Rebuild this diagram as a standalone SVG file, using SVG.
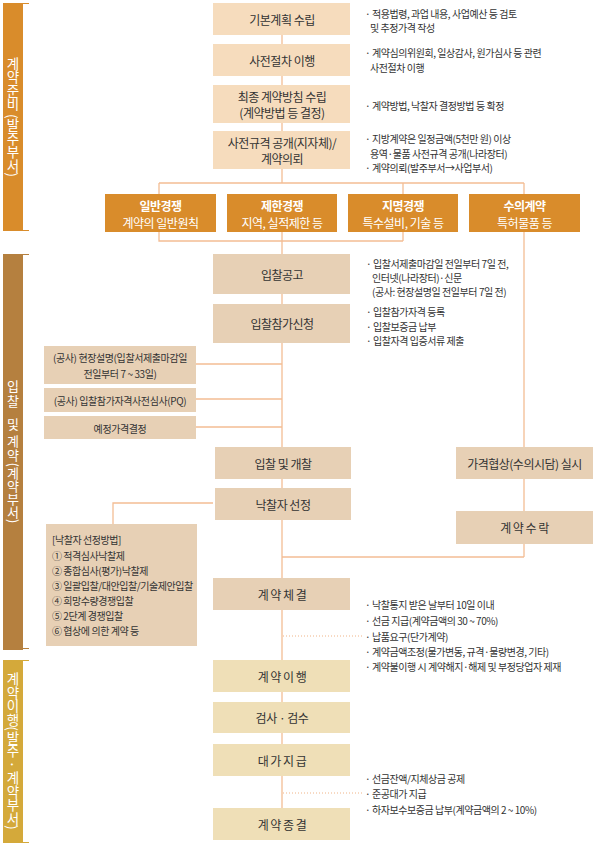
<svg xmlns="http://www.w3.org/2000/svg" width="599" height="847" viewBox="0 0 599 847">
<style>
text{font-family:"Noto Sans CJK KR","Noto Sans",sans-serif;fill:#333;}
.lbl{font-size:12px;letter-spacing:-0.5px;text-anchor:middle;dominant-baseline:central;}
.note{font-size:10px;letter-spacing:-0.45px;dominant-baseline:central;}
.sm{font-size:10px;letter-spacing:-0.4px;text-anchor:middle;dominant-baseline:central;}
.w{fill:#fff;}
.b{font-weight:bold;}
.side{font-size:13.5px;fill:#fff;text-anchor:middle;writing-mode:vertical-rl;}
.sc{font-size:13px;fill:#fff;text-anchor:middle;dominant-baseline:central;}
.ln{stroke:#f3bd94;stroke-width:1.3;fill:none;}
.dot{stroke:#f0b487;stroke-width:1;stroke-dasharray:1 2;fill:none;}
.b1{fill:#f6dcbd;}
.b2{fill:#e7d0b5;}
.b3{fill:#efdfb7;}
.or{fill:#d98c2b;}
</style>

<!-- sidebars -->
<g id="side-prep">
<rect x="3" y="3" width="20" height="228" fill="#d98c2b"/>
<path d="M23 3.5H29M23 230.5H29" stroke="#d98c2b" stroke-width="1.2"/>
<text class="side" x="13" y="117">계약준비 (발주부서)</text>
</g>
<g id="side-bid">
<rect x="3" y="254" width="20" height="396" fill="#b5803f"/>
<path d="M23 254.5H29M23 648.5H29" stroke="#b5803f" stroke-width="1.2"/>
<text class="sc" x="13 13 13 13 13" y="385 400 423 440 454">입찰및계약</text>
<text class="side" x="13" y="493" style="font-size:13px">(계약부서)</text>
</g>
<g id="side-exec">
<rect x="3" y="660" width="20" height="183" fill="#d4a93a"/>
<path d="M23 660.5H29M23 842.5H29" stroke="#d4a93a" stroke-width="1.2"/>
<text class="side" x="13" y="751">계약이행(발주 · 계약부서)</text>
</g>

<!-- connectors -->
<g id="connectors">
<path class="ln" d="M282 35V183M159 183H524M159 183V194M403 183V194M524 183V557M159 232V241H403M403 232V241M282 232V808"/>
<path class="ln" d="M196 364H282M196 399H282M196 427H282"/>
<path class="ln" d="M213 503H113V524"/>
<path class="ln" d="M282 557H524"/>
<path class="dot" d="M283 636H362M283 793H362"/>
</g>

<!-- top boxes -->
<g id="n-plan"><rect class="b1" x="213" y="3" width="137" height="32"/><text class="lbl" x="282" y="19">기본계획 수립</text></g>
<g id="n-pre"><rect class="b1" x="213" y="44" width="137" height="32"/><text class="lbl" x="282" y="60">사전절차 이행</text></g>
<g id="n-policy"><rect class="b1" x="213" y="85" width="137" height="38"/><text class="lbl" x="282" y="96">최종 계약방침 수립</text><text class="lbl" x="282" y="112.5">(계약방법 등 결정)</text></g>
<g id="n-spec"><rect class="b1" x="213" y="131" width="137" height="38"/><text class="lbl" x="282" y="142">사전규격 공개(지자체)/</text><text class="lbl" x="282" y="158">계약의뢰</text></g>

<!-- top notes -->
<g id="notes-top">
<text class="note" x="365" y="13">· 적용법령, 과업 내용, 사업예산 등 검토</text>
<text class="note" x="370" y="27">및 추정가격 작성</text>
<text class="note" x="365" y="52">· 계약심의위원회, 일상감사, 원가심사 등 관련</text>
<text class="note" x="370" y="67">사전절차 이행</text>
<text class="note" x="365" y="105">· 계약방법, 낙찰자 결정방법 등 확정</text>
<text class="note" x="365" y="138">· 지방계약은 일정금액(5천만 원) 이상</text>
<text class="note" x="370" y="153">용역·물품 사전규격 공개(나라장터)</text>
<text class="note" x="365" y="167">· 계약의뢰(발주부서→사업부서)</text>
</g>

<!-- orange boxes -->
<g id="n-general"><rect class="or" x="105" y="194" width="111" height="38"/><text class="lbl w b" x="160.5" y="205">일반경쟁</text><text class="lbl w" x="160.5" y="222">계약의 일반원칙</text></g>
<g id="n-limited"><rect class="or" x="227" y="194" width="110" height="38"/><text class="lbl w b" x="282" y="205">제한경쟁</text><text class="lbl w" x="282" y="222">지역, 실적제한 등</text></g>
<g id="n-nominated"><rect class="or" x="348" y="194" width="110" height="38"/><text class="lbl w b" x="403" y="205">지명경쟁</text><text class="lbl w" x="403" y="222">특수설비, 기술 등</text></g>
<g id="n-private"><rect class="or" x="469" y="194" width="111" height="38"/><text class="lbl w b" x="524.5" y="205">수의계약</text><text class="lbl w" x="524.5" y="222">특허물품 등</text></g>

<!-- middle boxes -->
<g id="n-notice"><rect class="b2" x="213" y="254" width="137" height="40"/><text class="lbl" x="282" y="274">입찰공고</text></g>
<g id="n-apply"><rect class="b2" x="213" y="304" width="137" height="39"/><text class="lbl" x="282" y="323">입찰참가신청</text></g>
<g id="n-site"><rect class="b2" x="44" y="346" width="152" height="38"/><text class="sm" x="120" y="357">(공사) 현장설명(입찰서제출마감일</text><text class="sm" x="120" y="373">전일부터 7 ~ 33일)</text></g>
<g id="n-pq"><rect class="b2" x="44" y="388" width="152" height="24"/><text class="sm" x="120" y="400">(공사) 입찰참가자격사전심사(PQ)</text></g>
<g id="n-price"><rect class="b2" x="44" y="416" width="152" height="23"/><text class="sm" x="120" y="428">예정가격결정</text></g>
<g id="n-open"><rect class="b2" x="215" y="447" width="136" height="32"/><text class="lbl" x="283" y="463">입찰 및 개찰</text></g>
<g id="n-select"><rect class="b2" x="215" y="488" width="136" height="32"/><text class="lbl" x="283" y="504">낙찰자 선정</text></g>
<g id="n-method"><rect class="b2" x="46" y="524" width="151" height="122"/>
<text class="note" x="52" y="539">[낙찰자 선정방법]</text>
<text class="note" x="52" y="555">① 적격심사낙찰제</text>
<text class="note" x="52" y="570">② 종합심사(평가)낙찰제</text>
<text class="note" x="52" y="585">③ 일괄입찰/대안입찰/기술제안입찰</text>
<text class="note" x="52" y="600">④ 희망수량경쟁입찰</text>
<text class="note" x="52" y="615">⑤ 2단계 경쟁입찰</text>
<text class="note" x="52" y="630">⑥ 협상에 의한 계약 등</text>
</g>
<g id="n-contract"><rect class="b2" x="213" y="578" width="137" height="32"/><text class="lbl" x="282" y="594">계 약 체 결</text></g>
<g id="n-nego"><rect class="b2" x="456" y="447" width="137" height="32"/><text class="lbl" x="524.5" y="463">가격협상(수의시담) 실시</text></g>
<g id="n-accept"><rect class="b2" x="456" y="511" width="137" height="33"/><text class="lbl" x="524.5" y="527">계 약 수 락</text></g>

<!-- middle notes -->
<g id="notes-mid">
<text class="note" x="366" y="263">· 입찰서제출마감일 전일부터 7일 전,</text>
<text class="note" x="372" y="277">인터넷(나라장터)·신문</text>
<text class="note" x="372" y="291">(공사: 현장설명일 전일부터 7일 전)</text>
<text class="note" x="366" y="311">· 입찰참가자격 등록</text>
<text class="note" x="366" y="326">· 입찰보증금 납부</text>
<text class="note" x="366" y="340">· 입찰자격 입증서류 제출</text>
<text class="note" x="365" y="604">· 낙찰통지 받은 날부터 10일 이내</text>
<text class="note" x="365" y="620">· 선금 지급(계약금액의 30 ~ 70%)</text>
<text class="note" x="365" y="636">· 납품요구(단가계약)</text>
<text class="note" x="365" y="651">· 계약금액조정(물가변동, 규격·물량변경, 기타)</text>
<text class="note" x="365" y="666">· 계약불이행 시 계약해지·해제 및 부정당업자 제재</text>
</g>

<!-- bottom boxes -->
<g id="n-exec"><rect class="b3" x="213" y="660" width="137" height="32"/><text class="lbl" x="282" y="676">계 약 이 행</text></g>
<g id="n-inspect"><rect class="b3" x="213" y="702" width="137" height="31"/><text class="lbl" x="282" y="717">검사 · 검수</text></g>
<g id="n-pay"><rect class="b3" x="213" y="744" width="137" height="32"/><text class="lbl" x="282" y="760">대 가 지 급</text></g>
<g id="n-end"><rect class="b3" x="213" y="808" width="137" height="32"/><text class="lbl" x="282" y="824">계 약 종 결</text></g>

<g id="notes-bottom">
<text class="note" x="365" y="778">· 선금잔액/지체상금 공제</text>
<text class="note" x="365" y="793">· 준공대가 지급</text>
<text class="note" x="365" y="809">· 하자보수보증금 납부(계약금액의 2 ~ 10%)</text>
</g>
</svg>
